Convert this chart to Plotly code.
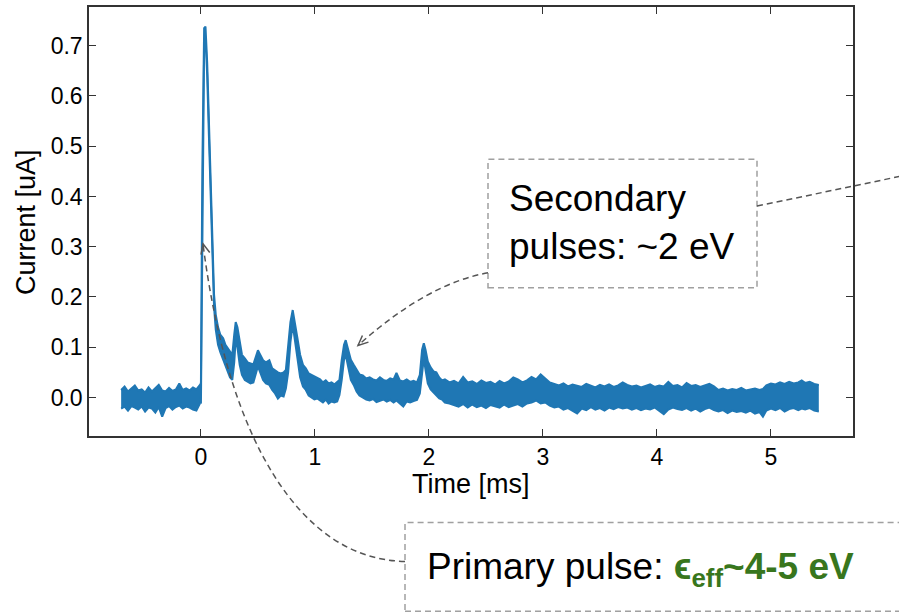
import plotly.graph_objects as go

# ---------------- data ----------------
time_ms = [
    -0.70, -0.67, -0.64, -0.61, -0.58, -0.55, -0.52, -0.49, -0.46, -0.43,
    -0.40, -0.37, -0.34, -0.31, -0.28, -0.25, -0.22, -0.19, -0.16, -0.13,
    -0.10, -0.07, -0.04, -0.02, -0.005,
    0.000, 0.012, 0.028, 0.040, 0.055, 0.070, 0.085, 0.100, 0.115, 0.130,
    0.150, 0.170, 0.195, 0.215, 0.235, 0.255, 0.275, 0.292, 0.305, 0.320,
    0.340, 0.360, 0.385, 0.410, 0.435, 0.460, 0.480, 0.500, 0.520, 0.545,
    0.570, 0.600, 0.625, 0.650, 0.675, 0.700, 0.725, 0.745, 0.765, 0.785,
    0.805, 0.825, 0.845, 0.870, 0.895, 0.920, 0.945, 0.970, 0.995, 1.020,
    1.045, 1.070, 1.095, 1.120, 1.145, 1.170, 1.195, 1.215, 1.235, 1.255,
    1.270, 1.290, 1.315, 1.340, 1.365, 1.390, 1.420, 1.450, 1.480, 1.510,
    1.540, 1.570, 1.600, 1.630, 1.660, 1.690, 1.715, 1.745, 1.775, 1.805,
    1.835, 1.865, 1.895, 1.920, 1.940, 1.955, 1.970, 1.990, 2.015, 2.040,
    2.065, 2.090, 2.115, 2.140,
    2.18, 2.22, 2.26, 2.30, 2.34, 2.38, 2.42, 2.46, 2.50, 2.54,
    2.58, 2.62, 2.66, 2.70, 2.74, 2.78, 2.82, 2.86, 2.90, 2.94,
    2.98, 3.02, 3.06, 3.10, 3.14, 3.18, 3.22, 3.26, 3.30, 3.34,
    3.38, 3.42, 3.46, 3.50, 3.54, 3.58, 3.62, 3.66, 3.70, 3.74,
    3.78, 3.82, 3.86, 3.90, 3.94, 3.98, 4.02, 4.06, 4.10, 4.14,
    4.18, 4.22, 4.26, 4.30, 4.34, 4.38, 4.42, 4.46, 4.50, 4.54,
    4.58, 4.62, 4.66, 4.70, 4.74, 4.78, 4.82, 4.86, 4.90, 4.93,
    4.96, 5.00, 5.04, 5.08, 5.12, 5.16, 5.20, 5.24, 5.27, 5.30,
    5.34, 5.38, 5.42,
]

# upper edge of the noisy current trace [uA]
current_upper = [
    0.015, 0.022, 0.012, 0.018, 0.024, 0.014, 0.016, 0.010, 0.020, 0.012,
    0.018, 0.025, 0.014, 0.012, 0.019, 0.013, 0.016, 0.028, 0.015, 0.018,
    0.014, 0.020, 0.016, 0.022, 0.026,
    0.030, 0.450, 0.735, 0.738, 0.665, 0.545, 0.415, 0.290, 0.205, 0.165,
    0.140, 0.125, 0.118, 0.105, 0.098, 0.090, 0.085, 0.125, 0.150, 0.140,
    0.110, 0.085, 0.078, 0.070, 0.068, 0.066, 0.080, 0.094, 0.085, 0.074,
    0.070, 0.074, 0.058, 0.054, 0.050, 0.048, 0.050, 0.055, 0.100, 0.150,
    0.174, 0.150, 0.120, 0.085, 0.065, 0.058, 0.048, 0.045, 0.042, 0.040,
    0.036, 0.030, 0.034, 0.028, 0.030, 0.026, 0.030, 0.035, 0.075, 0.105,
    0.114, 0.095, 0.075, 0.065, 0.055, 0.046, 0.044, 0.038, 0.040, 0.036,
    0.034, 0.040, 0.035, 0.033, 0.038, 0.036, 0.049, 0.034, 0.032, 0.036,
    0.031, 0.033, 0.030, 0.045, 0.095, 0.108, 0.095, 0.072, 0.060, 0.052,
    0.050, 0.040, 0.034, 0.036,
    0.030, 0.033, 0.028, 0.041, 0.030, 0.032, 0.027, 0.034, 0.029, 0.031,
    0.026, 0.033, 0.028, 0.032, 0.040, 0.036, 0.030, 0.034, 0.041, 0.036,
    0.046, 0.038, 0.030, 0.027, 0.024, 0.028, 0.022, 0.026, 0.023, 0.021,
    0.027, 0.024, 0.020, 0.025, 0.022, 0.026, 0.021, 0.024, 0.030, 0.025,
    0.022, 0.024, 0.020, 0.023, 0.026, 0.021, 0.024, 0.022, 0.031, 0.023,
    0.025, 0.020, 0.029, 0.023, 0.025, 0.021, 0.024, 0.027, 0.022, 0.015,
    0.018, 0.014, 0.017, 0.015, 0.019, 0.014, 0.016, 0.018, 0.015, 0.017,
    0.024, 0.028, 0.026, 0.030, 0.027, 0.031, 0.028, 0.030, 0.034, 0.029,
    0.031, 0.027, 0.025,
]

# lower edge of the noisy current trace [uA]
current_lower = [
    -0.022, -0.018, -0.026, -0.017, -0.020, -0.024, -0.018, -0.028, -0.020, -0.022,
    -0.030, -0.019, -0.038, -0.021, -0.017, -0.024, -0.019, -0.016, -0.022, -0.018,
    -0.020, -0.024, -0.026, -0.018, -0.010,
    -0.012, 0.380, 0.700, 0.715, 0.640, 0.520, 0.390, 0.265, 0.180, 0.135,
    0.105, 0.090, 0.075, 0.060, 0.050, 0.040, 0.035, 0.070, 0.115, 0.100,
    0.065, 0.045, 0.035, 0.032, 0.028, 0.030, 0.045, 0.062, 0.050, 0.035,
    0.028, 0.025, 0.015, 0.008, -0.002, 0.004, 0.002, 0.018, 0.050, 0.110,
    0.145, 0.110, 0.080, 0.040, 0.022, 0.015, 0.004, 0.000, -0.004, -0.002,
    -0.006, -0.010, -0.004, -0.012, -0.008, -0.010, -0.008, 0.005, 0.035, 0.075,
    0.085, 0.060, 0.035, 0.025, 0.012, 0.004, 0.000, -0.004, -0.006, -0.003,
    -0.009, -0.006, -0.004, -0.008, -0.005, -0.010, -0.006, -0.012, -0.018, -0.008,
    -0.010, -0.007, -0.005, 0.008, 0.050, 0.078, 0.055, 0.028, 0.016, 0.010,
    0.004, -0.002, -0.004, -0.010,
    -0.012, -0.015, -0.018, -0.013, -0.020, -0.014, -0.019, -0.016, -0.021, -0.015,
    -0.018, -0.020, -0.014, -0.019, -0.016, -0.013, -0.018, -0.012, -0.010, -0.006,
    -0.012, -0.010, -0.016, -0.020, -0.018, -0.024, -0.021, -0.027, -0.032, -0.022,
    -0.025, -0.019, -0.024, -0.021, -0.026, -0.020, -0.023, -0.019, -0.022, -0.020,
    -0.024, -0.021, -0.025, -0.022, -0.024, -0.020, -0.026, -0.033, -0.024, -0.020,
    -0.023, -0.025, -0.021, -0.026, -0.022, -0.028, -0.023, -0.020, -0.025, -0.028,
    -0.025, -0.031, -0.026, -0.029, -0.027, -0.030, -0.026, -0.032, -0.029, -0.038,
    -0.026, -0.022, -0.025, -0.021, -0.028, -0.023, -0.021, -0.025, -0.022, -0.024,
    -0.021, -0.026, -0.028,
]

x_tick_values = [0, 1, 2, 3, 4, 5]
y_tick_values = [0.0, 0.1, 0.2, 0.3, 0.4, 0.5, 0.6, 0.7]
y_tick_labels = ["0.0", "0.1", "0.2", "0.3", "0.4", "0.5", "0.6", "0.7"]

x_label = "Time [ms]"
y_label = "Current [uA]"
secondary_text = "Secondary<br>pulses: ~2 eV"
primary_text_plain = "Primary pulse: "
primary_text_green = "ϵ<sub>eff</sub>~4-5 eV"

# ---------------- layout geometry (pixels) ----------------
W, H = 899, 613
L, R, T, B = 89, 853, 5, 436

def px(x):
    return (x - L) / (R - L)

def py(y):
    return (B - y) / (B - T)

BLUE = "#1f77b4"
FONT = "Liberation Sans, Arial, Helvetica, sans-serif"
GREEN = "#38761d"
ARROW = "#555555"
BOXC = "#a0a0a0"

fig = go.Figure()
fig.add_trace(go.Scatter(
    x=time_ms, y=current_upper, mode="lines",
    line=dict(color=BLUE, width=2), hoverinfo="skip", showlegend=False))
fig.add_trace(go.Scatter(
    x=time_ms, y=current_lower, mode="lines", fill="tonexty",
    fillcolor=BLUE, line=dict(color=BLUE, width=2),
    hoverinfo="skip", showlegend=False))

axis_common = dict(
    ticks="inside", ticklen=7, tickwidth=1.3, tickcolor="#333333",
    showline=True, linecolor="#333333", linewidth=1.5, mirror="ticks",
    showgrid=False, zeroline=False,
    tickfont=dict(family=FONT, size=23, color="black"),
)

fig.update_layout(
    width=W, height=H, autosize=False,
    margin=dict(l=L, r=W - R, t=T, b=H - B),
    paper_bgcolor="white", plot_bgcolor="white",
    font=dict(family=FONT, color="black"),
    xaxis=dict(range=[-0.982, 5.72], tickvals=x_tick_values, **axis_common),
    yaxis=dict(range=[-0.0766, 0.777], tickvals=y_tick_values,
               ticktext=y_tick_labels, **axis_common),
)

# axis titles
fig.add_annotation(text=x_label, xref="paper", yref="paper",
                   x=px(471), y=py(484), xanchor="center", yanchor="middle",
                   showarrow=False, font=dict(family=FONT, size=27, color="black"))
fig.add_annotation(text=y_label, xref="paper", yref="paper",
                   x=px(26), y=py(221), xanchor="center", yanchor="middle",
                   textangle=-90, showarrow=False,
                   font=dict(family=FONT, size=27, color="black"))

# annotation boxes (dashed)
fig.add_shape(type="rect", xref="paper", yref="paper",
              x0=px(488), x1=px(757), y0=py(287), y1=py(158),
              line=dict(color=BOXC, width=1.5, dash="6px,4px"))
fig.add_shape(type="rect", xref="paper", yref="paper",
              x0=px(405), x1=px(910), y0=py(612), y1=py(523),
              line=dict(color=BOXC, width=1.5, dash="6px,4px"))

fig.add_annotation(text=secondary_text, xref="paper", yref="paper",
                   x=px(507), y=py(222), xanchor="left", yanchor="middle",
                   align="left", showarrow=False,
                   font=dict(family=FONT, size=37, color="black"))
fig.add_annotation(
    text=primary_text_plain + "<span style='color:%s'><b>%s</b></span>" % (GREEN, primary_text_green),
    xref="paper", yref="paper", x=px(425), y=py(570),
    xanchor="left", yanchor="middle", align="left", showarrow=False,
    font=dict(family=FONT, size=37, color="black"))

# connectors (pixel space -> paper)
def P(x, y):
    return "%.5f,%.5f" % (px(x), py(y))

def arrowhead(tip, frm, length=10, half=4.5):
    dx, dy = tip[0] - frm[0], tip[1] - frm[1]
    n = (dx * dx + dy * dy) ** 0.5
    ux, uy = dx / n, dy / n
    bx, by = tip[0] - ux * length, tip[1] - uy * length
    a = (bx - uy * half, by + ux * half)
    b = (bx + uy * half, by - ux * half)
    return "M %s L %s L %s" % (P(*a), P(*tip), P(*b))

# primary: box -> main pulse
p0, c1, c2, p3 = (405, 562), (300, 560), (228, 440), (203, 243)
fig.add_shape(type="path", xref="paper", yref="paper",
              path="M %s C %s %s %s" % (P(*p0), P(*c1), P(*c2), P(*p3)),
              line=dict(color=ARROW, width=1.5, dash="6px,4px"))
fig.add_shape(type="path", xref="paper", yref="paper",
              path=arrowhead(p3, (212, 280)),
              line=dict(color=ARROW, width=1.5))

# secondary: box -> third pulse
s0, sc, s2 = (488, 272), (427, 283), (358, 345)
fig.add_shape(type="path", xref="paper", yref="paper",
              path="M %s Q %s %s" % (P(*s0), P(*sc), P(*s2)),
              line=dict(color=ARROW, width=1.5, dash="6px,4px"))
fig.add_shape(type="path", xref="paper", yref="paper",
              path=arrowhead(s2, sc),
              line=dict(color=ARROW, width=1.5))

# secondary box -> off to the right
fig.add_shape(type="line", xref="paper", yref="paper",
              x0=px(757), y0=py(205), x1=px(915), y1=py(172),
              line=dict(color=ARROW, width=1.5, dash="6px,4px"))

fig.write_html("out.html")
